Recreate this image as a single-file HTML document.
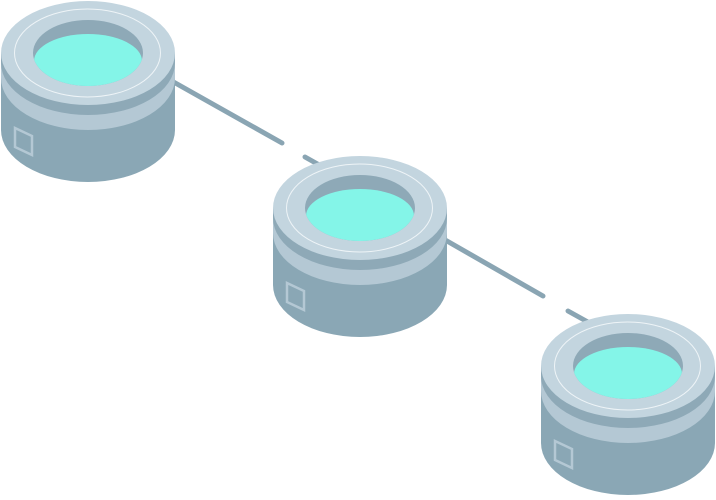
<!DOCTYPE html>
<html><head><style>html,body{margin:0;padding:0;background:#fff}</style></head><body>
<svg width="716" height="495" viewBox="0 0 716 495" xmlns="http://www.w3.org/2000/svg">
<defs>
<g id="cyl">
  <path d="M1,53 L175,53 L175,130 A87,52 0 0 1 1,130 Z" fill="#8aa7b5"/>
  <path d="M1,53 L175,53 L175,78 A87,52 0 0 1 1,78 Z" fill="#b4c8d4"/>
  <path d="M1,53 L175,53 L175,63 A87,52 0 0 1 1,63 Z" fill="#8ea9b7"/>
  <ellipse cx="88" cy="53" rx="87" ry="52" fill="#c3d5df"/>
  <ellipse cx="87.5" cy="53" rx="73" ry="44" fill="none" stroke="#eef4f7" stroke-width="1"/>
  <ellipse cx="88" cy="53" rx="55" ry="33" fill="#8ea9b7"/>
  <clipPath id="hc"><ellipse cx="88" cy="53" rx="55" ry="33"/></clipPath>
  <ellipse cx="88" cy="61" rx="54" ry="27" fill="#84f5e8" clip-path="url(#hc)"/>
  <path d="M15,128 L32,136 L32,155 L15,147 Z" fill="none" stroke="#b4c8d4" stroke-width="2.5"/>
</g>
</defs>
<g stroke="#8aa5b3" stroke-width="5" stroke-linecap="round">
  <line x1="170" y1="80" x2="282" y2="143"/>
  <line x1="305" y1="157" x2="330" y2="171"/>
  <line x1="440" y1="237" x2="543" y2="296"/>
  <line x1="568" y1="311" x2="595" y2="326"/>
</g>
<use href="#cyl" x="0" y="0"/>
<use href="#cyl" x="272" y="155"/>
<use href="#cyl" x="540" y="313"/>
</svg>
</body></html>
